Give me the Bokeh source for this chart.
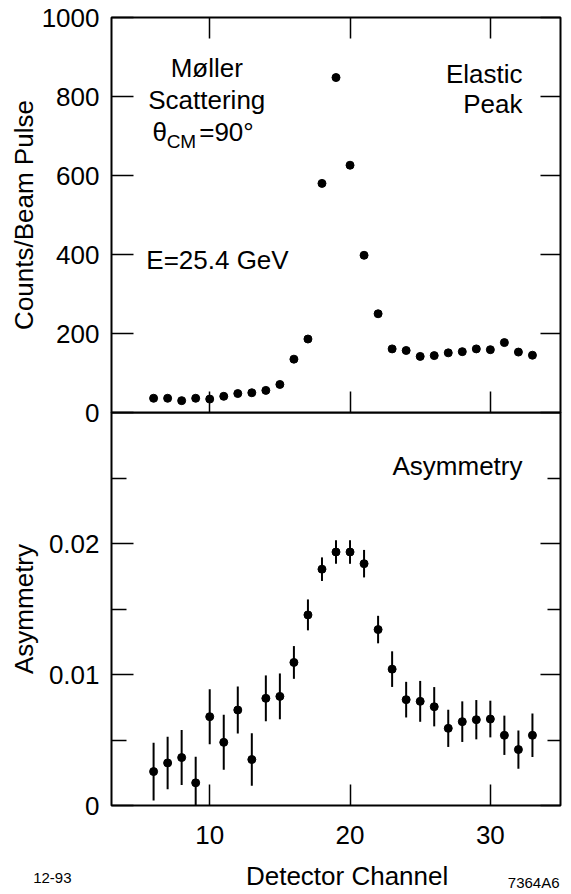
from bokeh.plotting import figure
from bokeh.models import (Range1d, LinearAxis, FixedTicker, Label, ColumnDataSource,
                          CustomLabelingPolicy)
from bokeh.layouts import column
from bokeh.core.properties import value
from bokeh.embed import file_html
from bokeh.resources import INLINE

FONT = "Liberation Sans"

# ---- data ----
channels = list(range(6, 34))
counts = [36, 36, 30, 36, 34, 41, 48, 50, 56, 71, 135, 186, 580, 848, 626, 398,
          250, 161, 157, 142, 144, 151, 154, 161, 159, 177, 153, 145]
asym = [0.00259, 0.00325, 0.00366, 0.00173, 0.00678, 0.00482, 0.00729, 0.00351,
        0.00818, 0.00833, 0.01092, 0.01455, 0.01804, 0.01935, 0.01935, 0.01846,
        0.01343, 0.01041, 0.00808, 0.00795, 0.00754, 0.00589, 0.00640, 0.00655,
        0.00660, 0.00536, 0.00427, 0.00536]
asym_err = [0.0022, 0.0020, 0.0021, 0.0020, 0.0021, 0.0021, 0.0018, 0.0020,
            0.00175, 0.00175, 0.00125, 0.00118, 0.0009, 0.0009, 0.0009, 0.00105,
            0.00105, 0.00136, 0.00136, 0.00156, 0.0015, 0.00142, 0.00155, 0.0015,
            0.0014, 0.0015, 0.00146, 0.00166]
x_ticks = [10, 20, 30]
top_y_ticks = [0, 200, 400, 600, 800, 1000]
bot_y_ticks = [0, 0.01, 0.02]
bot_y_labels = {0: "0", 0.01: "0.01", 0.02: "0.02"}
bot_y_minor = [0.005, 0.015, 0.025]

x_range = Range1d(3, 35)

NO_LABELS = "for (const i of indices) { indices.unset(i) }\nreturn indices"


def style_axis(ax, tick_len=21, minor_len=0, labels=True, size="26px"):
    ax.axis_line_color = None
    ax.major_tick_in = tick_len
    ax.major_tick_out = 0
    ax.minor_tick_in = minor_len
    ax.minor_tick_out = 0
    ax.major_tick_line_color = "black" if tick_len else None
    ax.major_tick_line_width = 1.5
    ax.minor_tick_line_color = "black" if minor_len else None
    ax.minor_tick_line_width = 1.5
    ax.major_label_text_font = FONT
    ax.axis_label_text_font = FONT
    ax.axis_label_text_font_style = "normal"
    ax.axis_label_text_color = "black"
    ax.major_label_text_color = "black"
    if labels:
        ax.major_label_text_font_size = size
        ax.major_label_standoff = 12
    else:
        # tick marks only: no tick labels are drawn on this side
        ax.major_label_text_font_size = "0px"
        ax.major_label_standoff = 0
        ax.major_label_policy = CustomLabelingPolicy(code=NO_LABELS)


def base_fig(height, y_range, top, bottom, **kw):
    p = figure(width=571, height=height, x_range=x_range, y_range=y_range,
               x_axis_type=None, y_axis_type=None, output_backend="svg",
               toolbar_location=None, min_border_left=111, min_border_right=11,
               min_border_top=top, min_border_bottom=bottom, **kw)
    p.outline_line_color = "black"
    p.outline_line_width = 2
    p.background_fill_color = "white"
    p.border_fill_color = "white"
    return p


def lab(p, x, y, text, align="left", size="26px", baseline="middle"):
    p.add_layout(Label(x=x, y=y, text=text, text_align=align, text_baseline=baseline,
                       text_font=FONT, text_font_size=size, text_color="black"))


# ---- top panel (canvas runs 20 px past its frame so the "0" label is whole) ----
p1 = base_fig(432, Range1d(0, 1000), 17, 20)
left1 = LinearAxis(ticker=FixedTicker(ticks=top_y_ticks, minor_ticks=[]))
style_axis(left1, 22)
left1.axis_label = "Counts/Beam Pulse"
left1.axis_label_text_font_size = "26px"
left1.axis_label_standoff = 0
p1.add_layout(left1, "left")
right1 = LinearAxis(ticker=FixedTicker(ticks=top_y_ticks, minor_ticks=[]))
style_axis(right1, 20, labels=False)
p1.add_layout(right1, "right")
for loc in ("above", "below"):
    ax = LinearAxis(ticker=FixedTicker(ticks=x_ticks, minor_ticks=[]))
    style_axis(ax, 21, labels=False)
    p1.add_layout(ax, loc)

p1.scatter(channels, counts, size=8, color="black")

lab(p1, 9.79, 871, "Møller", "center")
lab(p1, 9.79, 790, "Scattering", "center")
lab(p1, 5.93, 709, "θ")
lab(p1, 6.93, 686, "CM", size="19px")
lab(p1, 9.25, 709, "=90°")
lab(p1, 5.48, 385, "E=25.4 GeV")
lab(p1, 32.29, 858, "Elastic", "right")
lab(p1, 32.29, 782, "Peak", "right")

# ---- bottom panel (transparent, pulled up over the top canvas's spare strip) ----
p2 = base_fig(449, Range1d(0, 0.03), 0, 56, margin=(-20, 0, 0, 0))
p2.background_fill_alpha = 0
p2.border_fill_alpha = 0
left2 = LinearAxis(ticker=FixedTicker(ticks=bot_y_ticks, minor_ticks=bot_y_minor))
style_axis(left2, 22, 15)
left2.major_label_overrides = bot_y_labels
left2.axis_label = "Asymmetry"
left2.axis_label_text_font_size = "26px"
left2.axis_label_standoff = 7
p2.add_layout(left2, "left")
right2 = LinearAxis(ticker=FixedTicker(ticks=bot_y_ticks, minor_ticks=bot_y_minor))
style_axis(right2, 20, 13, labels=False)
p2.add_layout(right2, "right")
below2 = LinearAxis(ticker=FixedTicker(ticks=x_ticks, minor_ticks=[]))
style_axis(below2, 21)
below2.major_label_standoff = 20
p2.add_layout(below2, "below")

lo = [a - e for a, e in zip(asym, asym_err)]
hi = [a + e for a, e in zip(asym, asym_err)]
src = ColumnDataSource(dict(x=channels, y=asym, lo=lo, hi=hi))
p2.segment(x0="x", y0="lo", x1="x", y1="hi", source=src, line_color="black", line_width=2)
p2.scatter("x", "y", source=src, size=8, color="black")

lab(p2, 32.29, 0.02595, "Asymmetry", "right")

# ---- bottom strip with x-axis title and figure notes ----
p3 = figure(width=571, height=33, x_range=x_range, y_range=Range1d(0, 1),
            x_axis_type=None, y_axis_type=None, output_backend="svg",
            toolbar_location=None, min_border_left=111, min_border_right=11,
            min_border_top=0, min_border_bottom=0)
p3.outline_line_color = None
p3.xgrid.visible = False
p3.ygrid.visible = False
note_axis = LinearAxis(ticker=FixedTicker(ticks=[], minor_ticks=[]))
style_axis(note_axis, 0, labels=False)
note_axis.axis_label = "12-93"
note_axis.axis_label_orientation = "horizontal"
note_axis.axis_label_text_font_size = "15px"
note_axis.axis_label_standoff = 40
p3.add_layout(note_axis, "left")
p3.text(x=[19.79], y=[0.55], text=["Detector Channel"], text_align="center",
        text_baseline="middle", text_font=value(FONT), text_font_size="26px", text_color="black")
p3.text(x=[34.93], y=[0.36], text=["7364A6"], text_align="right",
        text_baseline="middle", text_font=value(FONT), text_font_size="15px", text_color="black")

layout = column(p1, p2, p3, spacing=0)
open("out.html", "w").write(file_html(layout, INLINE))
